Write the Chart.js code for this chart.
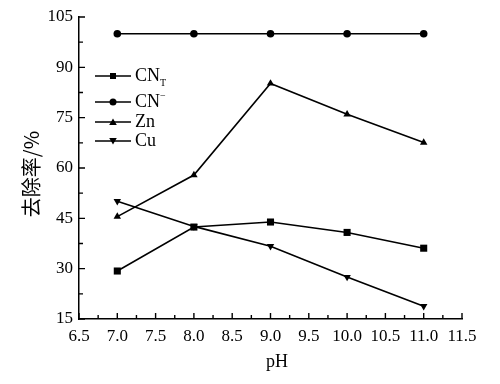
<!DOCTYPE html>
<html>
<head>
<meta charset="utf-8">
<script src="https://cdn.jsdelivr.net/npm/chart.js@4/dist/chart.umd.min.js"></script>
<style>
  body { margin: 0; background: #fff; }
  canvas { display: block; }
</style>
</head>
<body>
<canvas id="grafico" width="500" height="384"></canvas>
<script>
// valores
const pH = [7.0, 8.0, 9.0, 10.0, 11.0];
const cnT = [29.3, 42.4, 43.9, 40.8, 36.1];
const cnLivre = [100, 100, 100, 100, 100];
const zn = [45.5, 57.9, 85.2, 76.0, 67.6];
const cu = [50.1, 42.6, 36.7, 27.5, 18.8];

const xTicks = [6.5, 7.0, 7.5, 8.0, 8.5, 9.0, 9.5, 10.0, 10.5, 11.0, 11.5];
const yTicks = [15, 30, 45, 60, 75, 90, 105];

const SERIF = '"Liberation Serif", "DejaVu Serif", serif';
const CJK = '"Noto Sans CJK SC", sans-serif';

function pontos(valores) {
    return pH.map((x, i) => ({ x: x, y: valores[i] }));
}

function serie(label, valores, estilo, raio, rotacao) {
    return {
        label: label,
        data: pontos(valores),
        borderColor: '#000',
        backgroundColor: '#000',
        borderWidth: 1.6,
        pointStyle: estilo,
        pointRadius: raio,
        pointHoverRadius: raio,
        pointRotation: rotacao || 0,
        pointBorderWidth: 0,
        tension: 0
    };
}

// desenha marcador simples da legenda
function marcador(ctx, tipo, x, y, r) {
    ctx.beginPath();
    if (tipo === 'rect') {
        ctx.rect(x - r, y - r, 2 * r, 2 * r);
    } else if (tipo === 'circle') {
        ctx.arc(x, y, r + 0.5, 0, Math.PI * 2);
    } else if (tipo === 'up') {
        ctx.moveTo(x, y - r - 0.5);
        ctx.lineTo(x + r + 0.8, y + r);
        ctx.lineTo(x - r - 0.8, y + r);
    } else {
        ctx.moveTo(x, y + r + 0.5);
        ctx.lineTo(x + r + 0.8, y - r);
        ctx.lineTo(x - r - 0.8, y - r);
    }
    ctx.closePath();
    ctx.fill();
}

const tracos = {
    id: 'tracos',
    afterDraw(chart) {
        const ctx = chart.ctx;
        const sx = chart.scales.x;
        const sy = chart.scales.y;
        const area = chart.chartArea;
        ctx.save();
        ctx.strokeStyle = '#000';
        ctx.lineWidth = 1.4;
        ctx.beginPath();
        // ticks do eixo x, para dentro
        for (let v = 6.5; v <= 11.5001; v += 0.25) {
            const px = sx.getPixelForValue(v);
            const maior = Math.abs(v * 2 - Math.round(v * 2)) < 1e-6;
            ctx.moveTo(px, area.bottom);
            ctx.lineTo(px, area.bottom - (maior ? 6 : 4));
        }
        // ticks do eixo y
        for (let v = 15; v <= 105.001; v += 7.5) {
            const py = sy.getPixelForValue(v);
            const maior = Math.abs(v / 15 - Math.round(v / 15)) < 1e-6;
            ctx.moveTo(area.left, py);
            ctx.lineTo(area.left + (maior ? 6 : 4), py);
        }
        ctx.stroke();

        ctx.fillStyle = '#000';
        // títulos dos eixos
        ctx.textAlign = 'center';
        ctx.textBaseline = 'middle';
        ctx.font = '18px ' + SERIF;
        ctx.fillText('pH', 277, 362);
        ctx.save();
        ctx.translate(31, 174);
        ctx.rotate(-Math.PI / 2);
        ctx.font = '20px ' + CJK;
        ctx.fillText('去除率/%', 0, 0);
        ctx.restore();

        // legenda
        const itens = [
            { tipo: 'rect', y: 76, txt: 'CN', idx: 'T', sub: true },
            { tipo: 'circle', y: 102, txt: 'CN', idx: '\u2212', sub: false },
            { tipo: 'up', y: 122, txt: 'Zn' },
            { tipo: 'down', y: 141, txt: 'Cu' }
        ];
        ctx.textAlign = 'left';
        itens.forEach(it => {
            ctx.beginPath();
            ctx.moveTo(95, it.y);
            ctx.lineTo(131, it.y);
            ctx.stroke();
            marcador(ctx, it.tipo, 113, it.y, 3);
            ctx.font = '18px ' + SERIF;
            ctx.fillText(it.txt, 135, it.y);
            if (it.idx) {
                const w = ctx.measureText(it.txt).width;
                ctx.font = '10px ' + SERIF;
                ctx.fillText(it.idx, 135 + w, it.sub ? it.y + 7 : it.y - 6);
            }
        });
        ctx.restore();
    }
};

new Chart(document.getElementById('grafico'), {
    type: 'line',
    data: {
        datasets: [
            serie('CNT', cnT, 'rect', 5),
            serie('CN-', cnLivre, 'circle', 3.8),
            serie('Zn', zn, 'triangle', 4.3),
            serie('Cu', cu, 'triangle', 4.3, 180)
        ]
    },
    options: {
        responsive: false,
        animation: false,
        layout: { padding: { left: 0, top: 17, right: 38, bottom: 0 } },
        plugins: {
            legend: { display: false },
            tooltip: { enabled: false }
        },
        scales: {
            x: {
                type: 'linear',
                min: 6.5,
                max: 11.5,
                afterBuildTicks: s => { s.ticks = xTicks.map(v => ({ value: v })); },
                afterFit: s => { s.height = 65; },
                grid: { display: false, drawTicks: false },
                border: { display: true, color: '#000', width: 1.5 },
                ticks: {
                    padding: 7,
                    color: '#000',
                    maxRotation: 0,
                    font: { family: SERIF, size: 17 },
                    callback: v => Number(v).toFixed(1)
                }
            },
            y: {
                min: 15,
                max: 105,
                afterBuildTicks: s => { s.ticks = yTicks.map(v => ({ value: v })); },
                afterFit: s => { s.width = 79; },
                grid: { display: false, drawTicks: false },
                border: { display: true, color: '#000', width: 1.5 },
                ticks: {
                    padding: 6,
                    color: '#000',
                    font: { family: SERIF, size: 17 }
                }
            }
        }
    },
    plugins: [tracos]
});
</script>
</body>
</html>
